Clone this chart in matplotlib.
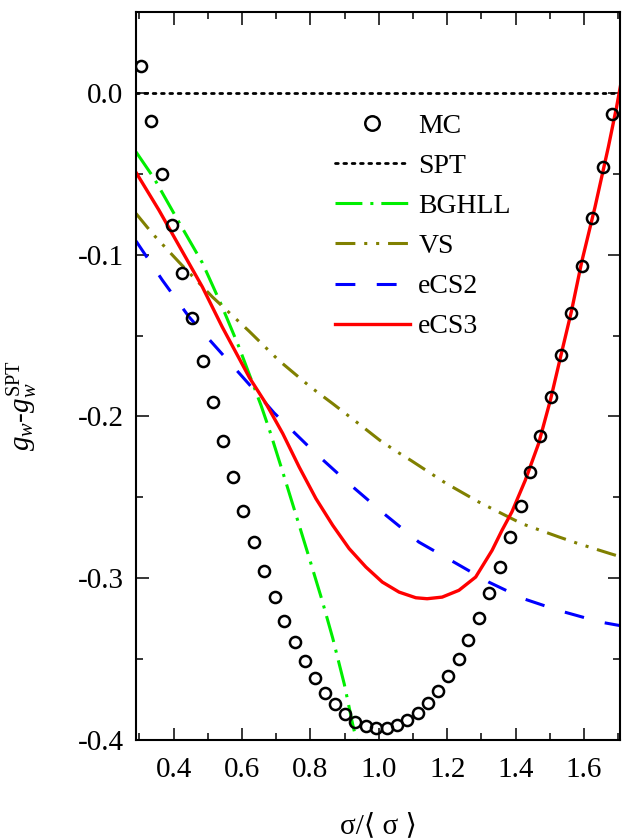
import matplotlib
matplotlib.use("Agg")
import matplotlib.pyplot as plt
from matplotlib.ticker import MultipleLocator

plt.rcParams["font.family"] = ["Liberation Serif", "DejaVu Serif"]
plt.rcParams["mathtext.fontset"] = "custom"
plt.rcParams["mathtext.rm"] = "Liberation Serif"
plt.rcParams["mathtext.it"] = "Liberation Serif:italic"

# MC simulation points
mc_x = [0.305, 0.335, 0.365, 0.396, 0.425, 0.455, 0.485, 0.515, 0.544, 0.574,
        0.604, 0.634, 0.664, 0.695, 0.724, 0.754, 0.784, 0.813, 0.842, 0.872,
        0.901, 0.931, 0.963, 0.993, 1.023, 1.052, 1.083, 1.113, 1.143, 1.173,
        1.203, 1.233, 1.262, 1.292, 1.323, 1.353, 1.383, 1.415, 1.443, 1.472,
        1.502, 1.532, 1.563, 1.593, 1.623, 1.654, 1.683]
mc_y = [0.0165, -0.0175, -0.0503, -0.0814, -0.1113, -0.1393, -0.1660, -0.1913,
        -0.2154, -0.2375, -0.2582, -0.2776, -0.2954, -0.3119, -0.3263, -0.3397,
        -0.3515, -0.3620, -0.3708, -0.3778, -0.3840, -0.3886, -0.3912, -0.3924,
        -0.3924, -0.3906, -0.3875, -0.3834, -0.3772, -0.3698, -0.3607, -0.3500,
        -0.3380, -0.3244, -0.3092, -0.2933, -0.2746, -0.2556, -0.2346, -0.2119,
        -0.1880, -0.1622, -0.1358, -0.1072, -0.0773, -0.0458, -0.0128]

spt_x = [0.29, 1.71]
spt_y = [0.0, 0.0]

bghll_x = [0.29, 0.343, 0.415, 0.484, 0.540, 0.590, 0.624, 0.656, 0.682, 0.721,
           0.759, 0.797, 0.834, 0.865, 0.899, 0.923, 0.945]
bghll_y = [-0.0365, -0.0529, -0.0798, -0.1051, -0.1313, -0.1566, -0.1756, -0.1935,
           -0.2096, -0.2358, -0.2618, -0.2879, -0.3137, -0.3370, -0.3656, -0.3899,
           -0.4100]

vs_x = [0.29, 0.338, 0.415, 0.513, 0.62, 0.707, 0.80, 0.865, 0.947, 1.003,
        1.054, 1.093, 1.195, 1.292, 1.418, 1.526, 1.584, 1.676, 1.71]
vs_y = [-0.0746, -0.0870, -0.1045, -0.1261, -0.1472, -0.1653, -0.1818, -0.1921,
        -0.2055, -0.2148, -0.2220, -0.2271, -0.2412, -0.2529, -0.2663, -0.2745,
        -0.2787, -0.2848, -0.2870]

ecs2_x = [0.29, 0.367, 0.445, 0.532, 0.62, 0.694, 0.811, 0.913, 1.017, 1.117,
          1.219, 1.321, 1.423, 1.525, 1.647, 1.71]
ecs2_y = [-0.0916, -0.1158, -0.1385, -0.1591, -0.1800, -0.1979, -0.2220, -0.2416,
          -0.2605, -0.2777, -0.2900, -0.3024, -0.3127, -0.3199, -0.3271, -0.3295]

ecs3_x = [0.29, 0.357, 0.415, 0.484, 0.542, 0.622, 0.670, 0.719, 0.767, 0.816,
          0.865, 0.913, 0.962, 1.010, 1.059, 1.108, 1.141, 1.185, 1.234, 1.283,
          1.331, 1.360, 1.389, 1.428, 1.467, 1.502, 1.532, 1.563, 1.593, 1.632,
          1.671, 1.695, 1.71]
ecs3_y = [-0.0492, -0.0725, -0.0942, -0.1200, -0.1447, -0.1762, -0.1921, -0.2106,
          -0.2313, -0.2508, -0.2673, -0.2817, -0.2931, -0.3024, -0.3086, -0.3121,
          -0.3127, -0.3117, -0.3075, -0.2993, -0.2828, -0.2704, -0.2590, -0.2395,
          -0.2168, -0.1895, -0.1625, -0.1350, -0.1045, -0.0705, -0.0334, -0.0087,
          0.0085]

fig = plt.figure(figsize=(6.24, 8.38), dpi=100)
ax = fig.add_axes([0.218, 0.117, 0.7756, 0.8687])

lw = 2.2
ax.plot(mc_x, mc_y, "o", ms=8, mfc="none", mec="black", mew=1.8,
        label="MC", zorder=5)
ax.plot(spt_x, spt_y, color="black", lw=2.0, ls=(0, (1, 2)),
        dash_capstyle="round", label="SPT")
ax.plot(bghll_x, bghll_y, color="#00ee00", lw=lw,
        ls=(0, (8.8, 2.6, 1.0, 2.6)), label="BGHLL")
ax.plot(vs_x, vs_y, color="#808000", lw=lw,
        ls=(0, (6.5, 2.9, 1.0, 2.9, 1.0, 2.9)), label="VS")
ax.plot(ecs2_x, ecs2_y, color="#0000ff", lw=lw, ls=(0, (6.5, 7.0)),
        label="eCS2")
ax.plot(ecs3_x, ecs3_y, color="#ff0000", lw=2.4, label="eCS3")

ax.set_xlim(0.29, 1.705)
ax.set_ylim(-0.4, 0.05)
ax.xaxis.set_major_locator(MultipleLocator(0.2))
ax.xaxis.set_minor_locator(MultipleLocator(0.1))
ax.yaxis.set_major_locator(MultipleLocator(0.1))
ax.yaxis.set_minor_locator(MultipleLocator(0.05))
ax.xaxis.set_major_formatter(plt.FormatStrFormatter("%.1f"))
ax.yaxis.set_major_formatter(plt.FormatStrFormatter("%.1f"))
ax.tick_params(which="both", direction="in", top=True, right=True,
               width=1.1, labelsize=21)
ax.tick_params(which="major", length=9)
ax.tick_params(which="minor", length=5)
ax.tick_params(axis="x", pad=12)
ax.tick_params(axis="y", pad=9)
for s in ax.spines.values():
    s.set_linewidth(1.5)

ax.set_xlabel("σ/⟨ σ ⟩", fontsize=21, labelpad=22)
ax.set_ylabel(r"$g_w$-$g_w^{\mathrm{SPT}}$", fontsize=21)
ax.yaxis.set_label_coords(-0.198, 0.459)

ax.legend(loc="upper left", bbox_to_anchor=(0.411, 0.861), frameon=False,
          fontsize=20, handlelength=2.7, handletextpad=0.3, labelspacing=0.53,
          borderpad=0, borderaxespad=0, markerscale=1.3)

fig.savefig("out.png", dpi=100)
